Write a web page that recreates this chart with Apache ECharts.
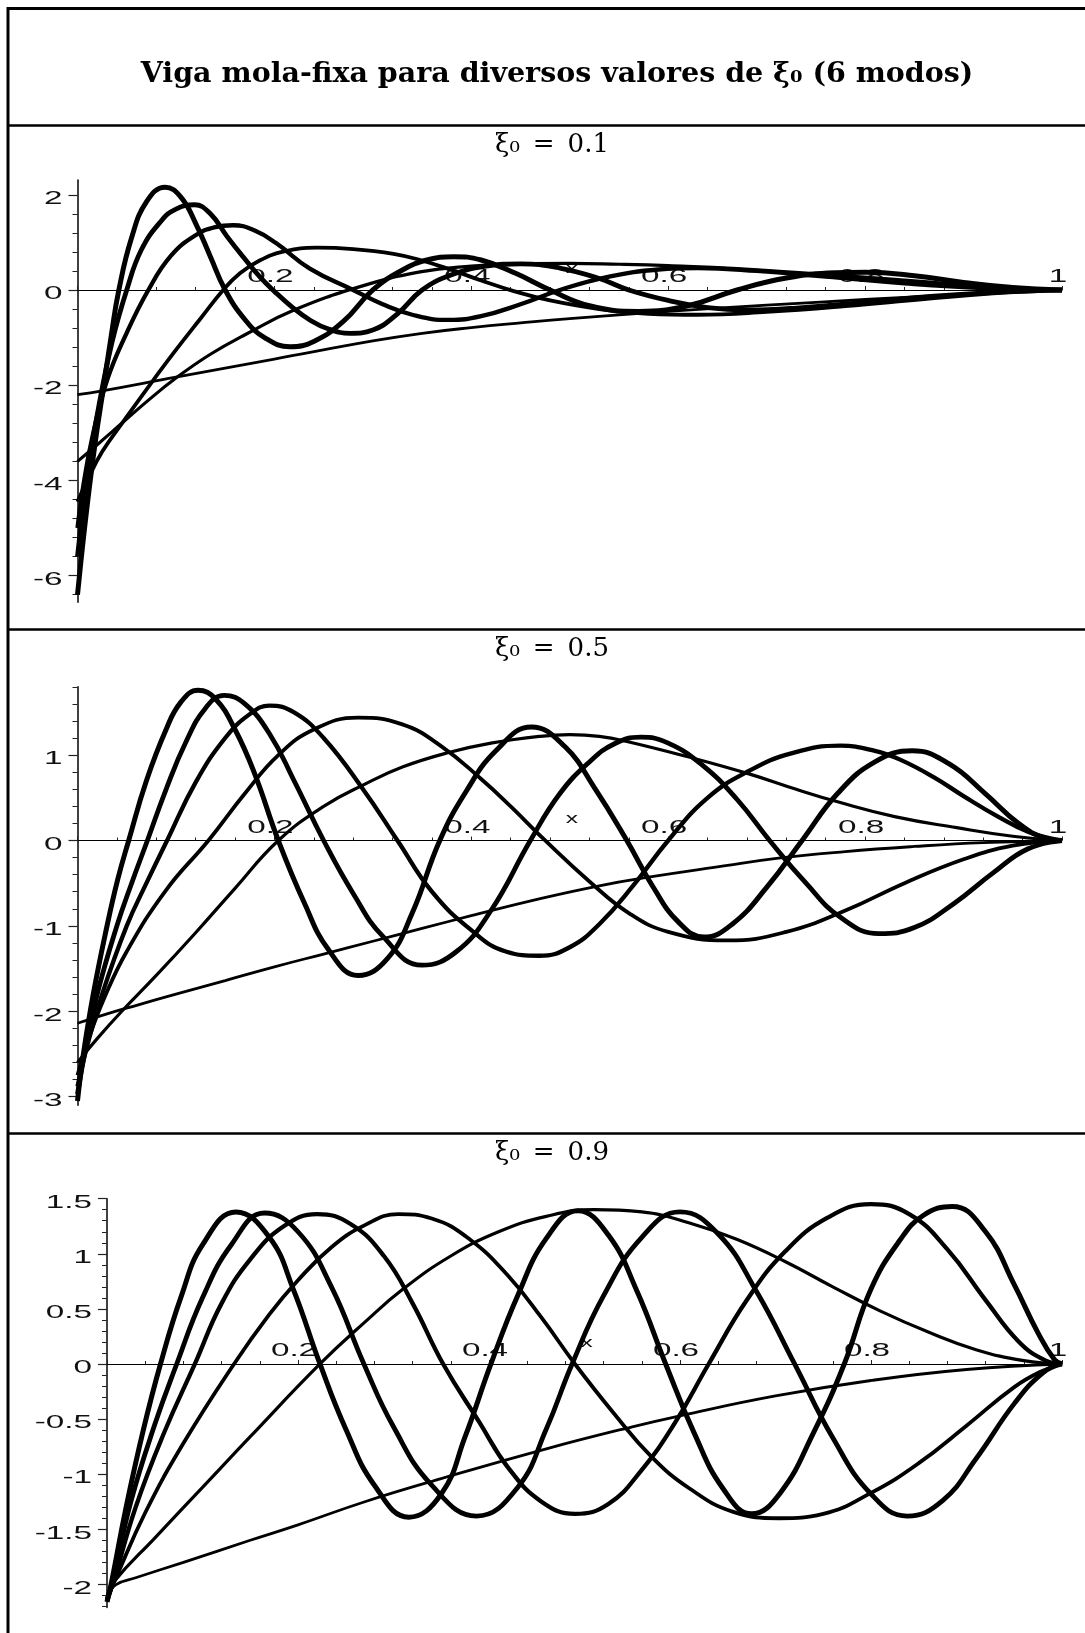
<!DOCTYPE html>
<html>
<head>
<meta charset="utf-8">
<title>Viga mola-fixa</title>
<script src="https://cdn.jsdelivr.net/npm/echarts@6/dist/echarts.min.js"></script>
<style>
  html, body { margin: 0; padding: 0; background: #fff; }
  #chart { width: 1085px; height: 1633px; }
</style>
</head>
<body>
<div id="chart"></div>
<script>
// ---------------------------------------------------------------
// Mode shapes (6 modes) of a spring-fixed beam, x in [0, 1]
// ---------------------------------------------------------------
const modeNames = ['modo 1', 'modo 2', 'modo 3', 'modo 4', 'modo 5', 'modo 6'];
const xTickLabels = [0.2, 0.4, 0.6, 0.8, 1];

// ---- xi0 = 0.1 ----
const p1_m1 = [[0,-2.2],[0.025,-2.12],[0.1,-1.83],[0.2,-1.45],[0.3,-1.07],[0.35,-0.91],[0.4,-0.79],[0.45,-0.69],[0.5,-0.6],[0.6,-0.45],[0.7,-0.32],[0.8,-0.2],[0.9,-0.09],[0.95,-0.04],[1,0]];
const p1_m2 = [[0,-3.6],[0.02,-3.25],[0.045,-2.8],[0.07,-2.35],[0.1,-1.85],[0.135,-1.35],[0.172,-0.92],[0.22,-0.42],[0.287,0.07],[0.348,0.38],[0.4,0.5],[0.45,0.55],[0.5,0.56],[0.55,0.54],[0.6,0.51],[0.67,0.45],[0.75,0.34],[0.82,0.24],[0.9,0.11],[0.95,0.04],[1,0]];
const p1_m3 = [[0,-4.45],[0.01,-4.0],[0.025,-3.4],[0.047,-2.75],[0.075,-1.95],[0.1,-1.26],[0.125,-0.6],[0.148,0],[0.165,0.35],[0.185,0.62],[0.21,0.81],[0.243,0.89],[0.28,0.86],[0.321,0.76],[0.348,0.63],[0.38,0.42],[0.41,0.2],[0.444,-0.03],[0.48,-0.22],[0.53,-0.4],[0.58,-0.5],[0.63,-0.52],[0.7,-0.46],[0.78,-0.34],[0.86,-0.19],[0.93,-0.07],[1,0]];
const p1_m4 = [[0,-5.0],[0.006,-4.1],[0.015,-3.1],[0.03,-1.9],[0.05,-0.9],[0.072,0],[0.095,0.72],[0.12,1.15],[0.14,1.32],[0.158,1.36],[0.18,1.25],[0.202,0.98],[0.236,0.45],[0.28,0],[0.31,-0.3],[0.34,-0.52],[0.377,-0.63],[0.41,-0.55],[0.45,-0.3],[0.49,0],[0.54,0.28],[0.59,0.43],[0.63,0.46],[0.69,0.4],[0.76,0.28],[0.84,0.14],[0.92,0.04],[1,0]];
const p1_m5 = [[0,-5.6],[0.005,-4.7],[0.012,-3.6],[0.022,-2.4],[0.035,-1.1],[0.05,0],[0.065,0.85],[0.085,1.45],[0.1,1.7],[0.119,1.79],[0.135,1.6],[0.152,1.12],[0.17,0.65],[0.185,0.28],[0.2,-0.03],[0.218,-0.36],[0.236,-0.63],[0.255,-0.82],[0.277,-0.91],[0.3,-0.84],[0.325,-0.5],[0.35,0],[0.38,0.32],[0.415,0.5],[0.45,0.55],[0.49,0.46],[0.53,0.24],[0.56,0],[0.6,-0.22],[0.64,-0.37],[0.68,-0.42],[0.73,-0.38],[0.8,-0.26],[0.87,-0.13],[0.94,-0.04],[1,0]];
const p1_m6 = [[0,-6.4],[0.004,-5.6],[0.01,-4.5],[0.018,-3.2],[0.026,-2.1],[0.034,-1.0],[0.042,0],[0.055,1.1],[0.07,1.85],[0.089,2.16],[0.105,1.95],[0.12,1.4],[0.135,0.7],[0.15,0],[0.17,-0.62],[0.19,-1.0],[0.216,-1.19],[0.24,-1.08],[0.27,-0.66],[0.3,0],[0.33,0.42],[0.355,0.63],[0.382,0.7],[0.41,0.63],[0.445,0.35],[0.48,0],[0.52,-0.33],[0.57,-0.45],[0.62,-0.33],[0.67,0],[0.72,0.25],[0.77,0.36],[0.8,0.37],[0.85,0.3],[0.9,0.16],[0.95,0.05],[1,0]];
const p1_yMajor = [-6, -4, -2, 0, 2];
const p1_yMinor = [-6.4,-5.6,-5.2,-4.8,-4.4,-3.6,-3.2,-2.8,-2.4,-1.6,-1.2,-0.8,-0.4,0.4,0.8,1.2,1.6];

// ---- xi0 = 0.5 ----
const p2_m1 = [[0,-2.14],[0.03,-2.03],[0.06,-1.93],[0.1,-1.8],[0.15,-1.64],[0.2,-1.48],[0.25,-1.33],[0.3,-1.18],[0.35,-1.03],[0.4,-0.88],[0.47,-0.68],[0.53,-0.53],[0.58,-0.43],[0.65,-0.31],[0.71,-0.21],[0.78,-0.13],[0.85,-0.07],[0.92,-0.025],[1,0]];
const p2_m2 = [[0,-2.6],[0.02,-2.32],[0.045,-2.0],[0.08,-1.58],[0.12,-1.08],[0.16,-0.56],[0.204,0],[0.25,0.4],[0.292,0.66],[0.33,0.86],[0.377,1.03],[0.42,1.14],[0.47,1.22],[0.5,1.24],[0.53,1.22],[0.558,1.16],[0.62,0.98],[0.682,0.78],[0.73,0.6],[0.773,0.45],[0.83,0.28],[0.893,0.15],[0.95,0.05],[1,0]];
const p2_m3 = [[0,-2.75],[0.012,-2.3],[0.027,-1.85],[0.05,-1.3],[0.09,-0.58],[0.133,0],[0.17,0.55],[0.204,1.0],[0.24,1.3],[0.285,1.44],[0.33,1.36],[0.37,1.1],[0.41,0.72],[0.44,0.4],[0.475,0],[0.52,-0.48],[0.56,-0.85],[0.6,-1.07],[0.66,-1.17],[0.72,-1.07],[0.78,-0.82],[0.84,-0.5],[0.9,-0.22],[0.95,-0.06],[1,0]];
const p2_m4 = [[0,-2.88],[0.01,-2.4],[0.025,-1.8],[0.05,-1.0],[0.07,-0.5],[0.091,0],[0.12,0.68],[0.15,1.2],[0.175,1.48],[0.195,1.58],[0.22,1.5],[0.25,1.2],[0.29,0.6],[0.325,0],[0.36,-0.6],[0.4,-1.05],[0.435,-1.3],[0.469,-1.35],[0.5,-1.25],[0.53,-0.98],[0.565,-0.52],[0.6,0],[0.64,0.5],[0.683,0.82],[0.725,1.02],[0.775,1.11],[0.81,1.05],[0.835,0.95],[0.87,0.74],[0.9,0.52],[0.935,0.28],[0.966,0.1],[1,0]];
const p2_m5 = [[0,-2.97],[0.008,-2.45],[0.02,-1.8],[0.04,-1.0],[0.055,-0.5],[0.071,0],[0.09,0.6],[0.11,1.15],[0.13,1.55],[0.149,1.7],[0.17,1.6],[0.195,1.25],[0.22,0.7],[0.25,0],[0.28,-0.62],[0.31,-1.12],[0.35,-1.46],[0.385,-1.3],[0.42,-0.82],[0.46,0],[0.49,0.55],[0.52,0.92],[0.545,1.13],[0.572,1.21],[0.6,1.14],[0.635,0.88],[0.67,0.48],[0.703,0],[0.74,-0.5],[0.775,-0.9],[0.814,-1.09],[0.85,-1.02],[0.89,-0.74],[0.93,-0.38],[0.965,-0.1],[1,0]];
const p2_m6 = [[0,-3.05],[0.006,-2.5],[0.016,-1.8],[0.03,-1.0],[0.041,-0.45],[0.052,0],[0.07,0.7],[0.09,1.3],[0.105,1.62],[0.1225,1.76],[0.14,1.66],[0.16,1.3],[0.18,0.78],[0.204,0],[0.23,-0.72],[0.255,-1.28],[0.285,-1.58],[0.315,-1.38],[0.34,-0.85],[0.368,0],[0.395,0.58],[0.425,1.05],[0.461,1.33],[0.495,1.1],[0.525,0.62],[0.558,0],[0.585,-0.55],[0.61,-0.95],[0.636,-1.13],[0.665,-0.98],[0.7,-0.55],[0.736,0],[0.772,0.55],[0.81,0.92],[0.848,1.05],[0.885,0.9],[0.922,0.55],[0.956,0.2],[0.985,0.02],[1,0]];
const p2_yMajor = [-3, -2, -1, 0, 1];
const p2_yMinor = [-2.8,-2.6,-2.4,-2.2,-1.8,-1.6,-1.4,-1.2,-0.8,-0.6,-0.4,-0.2,0.2,0.4,0.6,0.8,1.2,1.4,1.6,1.8];

// ---- xi0 = 0.9 ----
const p3_m1 = [[0,-2.1],[0.01,-2.0],[0.03,-1.94],[0.08,-1.8],[0.15,-1.6],[0.2,-1.46],[0.27,-1.25],[0.35,-1.04],[0.46,-0.77],[0.55,-0.57],[0.6,-0.47],[0.7,-0.29],[0.8,-0.15],[0.9,-0.05],[1,0]];
const p3_m2 = [[0,-2.12],[0.008,-1.97],[0.05,-1.58],[0.1,-1.12],[0.15,-0.66],[0.223,0],[0.27,0.38],[0.31,0.68],[0.36,0.98],[0.41,1.2],[0.46,1.34],[0.51,1.4],[0.56,1.38],[0.61,1.28],[0.66,1.13],[0.71,0.93],[0.76,0.7],[0.81,0.48],[0.86,0.29],[0.91,0.13],[0.96,0.03],[1,0]];
const p3_m3 = [[0,-2.13],[0.008,-1.97],[0.04,-1.35],[0.08,-0.72],[0.133,0],[0.17,0.45],[0.2,0.76],[0.235,1.06],[0.27,1.26],[0.305,1.36],[0.34,1.32],[0.38,1.13],[0.42,0.8],[0.455,0.42],[0.49,0],[0.53,-0.44],[0.57,-0.84],[0.61,-1.13],[0.655,-1.34],[0.704,-1.4],[0.75,-1.36],[0.8,-1.17],[0.85,-0.9],[0.9,-0.56],[0.95,-0.21],[0.98,-0.06],[1,0]];
const p3_m4 = [[0,-2.14],[0.007,-1.97],[0.03,-1.3],[0.06,-0.62],[0.092,0],[0.12,0.55],[0.15,0.95],[0.185,1.25],[0.22,1.36],[0.255,1.27],[0.29,0.98],[0.32,0.55],[0.352,0],[0.39,-0.53],[0.42,-0.94],[0.455,-1.25],[0.49,-1.36],[0.525,-1.27],[0.56,-0.96],[0.595,-0.53],[0.63,0],[0.67,0.58],[0.71,1.02],[0.755,1.33],[0.8,1.45],[0.84,1.36],[0.88,1.04],[0.92,0.58],[0.955,0.2],[0.983,0.03],[1,0]];
const p3_m5 = [[0,-2.15],[0.006,-1.97],[0.025,-1.25],[0.05,-0.55],[0.073,0],[0.1,0.6],[0.13,1.08],[0.165,1.37],[0.2,1.2],[0.235,0.7],[0.269,0],[0.3,-0.57],[0.34,-1.1],[0.387,-1.38],[0.43,-1.12],[0.46,-0.59],[0.487,0],[0.52,0.62],[0.56,1.15],[0.6,1.38],[0.64,1.18],[0.68,0.66],[0.72,0],[0.76,-0.67],[0.8,-1.18],[0.838,-1.38],[0.875,-1.24],[0.91,-0.86],[0.95,-0.36],[0.98,-0.08],[1,0]];
const p3_m6 = [[0,-2.16],[0.005,-1.97],[0.02,-1.3],[0.038,-0.6],[0.056,0],[0.078,0.62],[0.1,1.08],[0.135,1.38],[0.17,1.15],[0.195,0.68],[0.223,0],[0.25,-0.59],[0.28,-1.1],[0.316,-1.39],[0.35,-1.18],[0.375,-0.66],[0.402,0],[0.43,0.62],[0.46,1.14],[0.493,1.39],[0.525,1.17],[0.555,0.66],[0.585,0],[0.615,-0.63],[0.645,-1.13],[0.675,-1.36],[0.705,-1.17],[0.74,-0.62],[0.772,0],[0.8,0.68],[0.83,1.12],[0.855,1.35],[0.885,1.43],[0.92,1.2],[0.95,0.72],[0.975,0.28],[0.992,0.04],[1,0]];
const p3_yMajor = [-2, -1.5, -1, -0.5, 0, 0.5, 1, 1.5];
const p3_yMinor = [-2.2,-2.1,-1.9,-1.8,-1.7,-1.6,-1.4,-1.3,-1.2,-1.1,-0.9,-0.8,-0.7,-0.6,-0.4,-0.3,-0.2,-0.1,0.1,0.2,0.3,0.4,0.6,0.7,0.8,0.9,1.1,1.2,1.3,1.4];

// ---------------------------------------------------------------
// Panel layout (pixel boxes of the three plots and their value ranges)
// ---------------------------------------------------------------
const panels = [
  { label: 'ξ₀\u2002=\u20020.1', labelY: 145, curves: [p1_m1, p1_m2, p1_m3, p1_m4, p1_m5, p1_m6],
    yMajor: p1_yMajor, yMinor: p1_yMinor, yMin: -6.56, yMax: 2.31,
    box: { left: 77.5, top: 180, width: 984.5, height: 422.3 } },
  { label: 'ξ₀\u2002=\u20020.5', labelY: 649, curves: [p2_m1, p2_m2, p2_m3, p2_m4, p2_m5, p2_m6],
    yMajor: p2_yMajor, yMinor: p2_yMinor, yMin: -3.1, yMax: 1.8,
    box: { left: 77.5, top: 686.8, width: 984.5, height: 418.4 } },
  { label: 'ξ₀\u2002=\u20020.9', labelY: 1153, curves: [p3_m1, p3_m2, p3_m3, p3_m4, p3_m5, p3_m6],
    yMajor: p3_yMajor, yMinor: p3_yMinor, yMin: -2.21, yMax: 1.5,
    box: { left: 107, top: 1198.7, width: 955, height: 408.8 } }
];

const modeWidths = [2.8, 3.2, 3.8, 4.3, 4.8, 5];
const INK = '#000';
const STRETCH = 1.75;   // the plot lettering is wide and flat

const grids = [], xAxes = [], yAxes = [], series = [];
panels.forEach((p, i) => {
  grids.push({ left: p.box.left, top: p.box.top, width: p.box.width, height: p.box.height, containLabel: false });
  xAxes.push({
    type: 'value', gridIndex: i, min: 0, max: 1, interval: 0.2,
    axisLine: { show: true, onZero: true, onZeroAxisIndex: 2 * i, lineStyle: { color: INK, width: 1.2 } },
    axisTick: { show: true, inside: true, length: 4, lineStyle: { color: '#222', width: 1 } },
    minorTick: { show: true, splitNumber: 5, length: 3, lineStyle: { color: '#222', width: 1 } },
    axisLabel: { show: false }, splitLine: { show: false }, minorSplitLine: { show: false }
  });
  // main vertical axis: line + long ticks at the labelled values
  yAxes.push({
    type: 'value', gridIndex: i, min: p.yMin, max: p.yMax, position: 'left',
    axisLine: { show: true, onZero: false, lineStyle: { color: INK, width: 1.5 } },
    axisTick: { show: true, length: 9, customValues: p.yMajor, lineStyle: { color: '#222', width: 1.2 } },
    axisLabel: { show: false }, splitLine: { show: false }
  });
  // companion axis carrying the short intermediate ticks
  yAxes.push({
    type: 'value', gridIndex: i, min: p.yMin, max: p.yMax, position: 'left', offset: 0,
    axisLine: { show: false, onZero: false },
    axisTick: { show: true, length: 5, customValues: p.yMinor, lineStyle: { color: '#222', width: 1 } },
    axisLabel: { show: false }, splitLine: { show: false }
  });
  p.curves.forEach((c, m) => {
    series.push({
      type: 'line', name: modeNames[m], xAxisIndex: i, yAxisIndex: 2 * i,
      data: c, showSymbol: false, symbol: 'none', smooth: 0.45, silent: true,
      lineStyle: { color: INK, width: modeWidths[m] }, z: 3
    });
  });
});

const chart = echarts.init(document.getElementById('chart'), null, { renderer: 'canvas', width: 1085, height: 1633 });
chart.setOption({
  animation: false,
  backgroundColor: '#fff',
  grid: grids, xAxis: xAxes, yAxis: yAxes, series: series
});

// ---------------------------------------------------------------
// Frame, headings and tick lettering
// ---------------------------------------------------------------
function hline(y, w) {
  return { type: 'line', z: 1, shape: { x1: 7, y1: y, x2: 1085, y2: y }, style: { stroke: INK, lineWidth: w } };
}
function tickText(x, y, text, align, size) {
  return {
    type: 'text', x: x, y: y, scaleX: STRETCH, z: 1,
    style: {
      text: text, fill: '#111', font: (size || 19) + 'px "Liberation Sans", Arial, sans-serif',
      align: align, verticalAlign: 'middle', textAlign: align, textVerticalAlign: 'middle'
    }
  };
}

const elements = [
  { type: 'line', z: 1, shape: { x1: 8, y1: 7, x2: 8, y2: 1633 }, style: { stroke: INK, lineWidth: 3 } },
  hline(8.5, 3), hline(125.5, 2.5), hline(629.5, 2.5), hline(1133.5, 2.5),
  {
    type: 'text', x: 557, y: 75, z: 1,
    style: {
      text: 'Viga mola-fixa para diversos valores de ξ₀ (6 modos)', fill: INK,
      font: 'bold 28.5px "DejaVu Serif", serif',
      align: 'center', verticalAlign: 'middle', textAlign: 'center', textVerticalAlign: 'middle'
    }
  }
];

panels.forEach((p, i) => {
  elements.push({
    type: 'text', x: 552, y: p.labelY, z: 1,
    style: {
      text: p.label, fill: INK, font: '26px "DejaVu Serif", serif',
      align: 'center', verticalAlign: 'middle', textAlign: 'center', textVerticalAlign: 'middle'
    }
  });
  const si = 6 * i;
  p.yMajor.forEach(v => {
    const pt = chart.convertToPixel({ seriesIndex: si }, [0, v]);
    elements.push(tickText(pt[0] - 15, pt[1] + 4, String(v), 'right'));
  });
  xTickLabels.forEach(v => {
    const pt = chart.convertToPixel({ seriesIndex: si }, [v, 0]);
    elements.push(tickText(pt[0] - 4, pt[1] - 13, String(v), 'center'));
  });
  const xp = chart.convertToPixel({ seriesIndex: si }, [0.5, 0]);
  elements.push(tickText(xp[0] + 2, xp[1] - 21, 'x', 'center', 14));
});

chart.setOption({ graphic: { elements: elements } });
</script>
</body>
</html>
